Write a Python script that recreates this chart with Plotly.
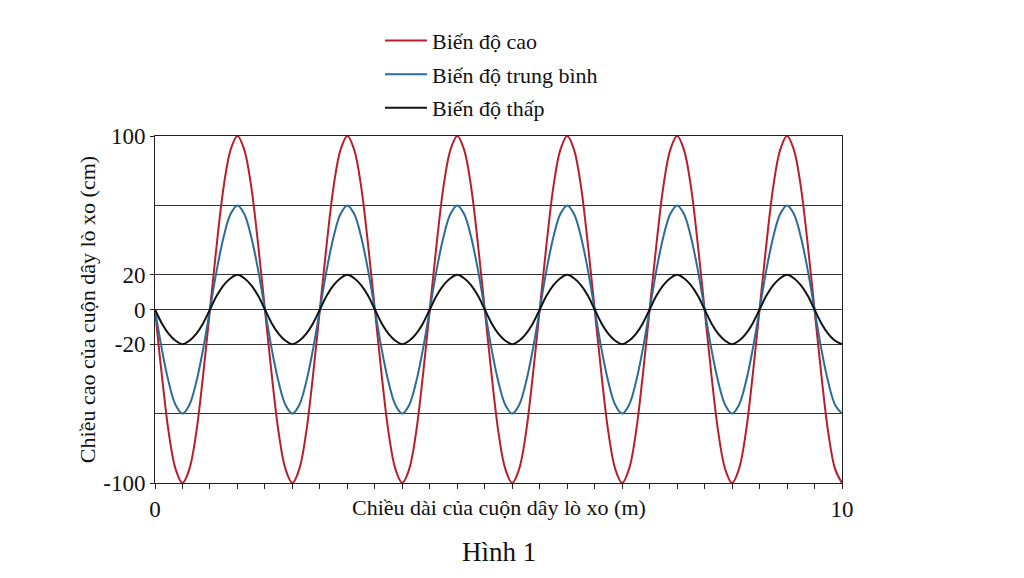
import plotly.graph_objects as go

# x positions along the spring (m), read every 0.1 m
x_m = [round(i * 0.1, 1) for i in range(101)]

# curve heights (cm), one period = 16 readings
bien_do_cao = [0, -38, -71, -92, -100, -92, -71, -38, 0, 38, 71, 92, 100, 92, 71, 38,
               0, -38, -71, -92, -100, -92, -71, -38, 0, 38, 71, 92, 100, 92, 71, 38,
               0, -38, -71, -92, -100, -92, -71, -38, 0, 38, 71, 92, 100, 92, 71, 38,
               0, -38, -71, -92, -100, -92, -71, -38, 0, 38, 71, 92, 100, 92, 71, 38,
               0, -38, -71, -92, -100, -92, -71, -38, 0, 38, 71, 92, 100, 92, 71, 38,
               0, -38, -71, -92, -100, -92, -71, -38, 0, 38, 71, 92, 100, 92, 71, 38,
               0, -38, -71, -92, -100]
bien_do_tb = [0, -23, -42, -55, -60, -55, -42, -23, 0, 23, 42, 55, 60, 55, 42, 23,
              0, -23, -42, -55, -60, -55, -42, -23, 0, 23, 42, 55, 60, 55, 42, 23,
              0, -23, -42, -55, -60, -55, -42, -23, 0, 23, 42, 55, 60, 55, 42, 23,
              0, -23, -42, -55, -60, -55, -42, -23, 0, 23, 42, 55, 60, 55, 42, 23,
              0, -23, -42, -55, -60, -55, -42, -23, 0, 23, 42, 55, 60, 55, 42, 23,
              0, -23, -42, -55, -60, -55, -42, -23, 0, 23, 42, 55, 60, 55, 42, 23,
              0, -23, -42, -55, -60]
bien_do_thap = [0, -8, -14, -18, -20, -18, -14, -8, 0, 8, 14, 18, 20, 18, 14, 8,
                0, -8, -14, -18, -20, -18, -14, -8, 0, 8, 14, 18, 20, 18, 14, 8,
                0, -8, -14, -18, -20, -18, -14, -8, 0, 8, 14, 18, 20, 18, 14, 8,
                0, -8, -14, -18, -20, -18, -14, -8, 0, 8, 14, 18, 20, 18, 14, 8,
                0, -8, -14, -18, -20, -18, -14, -8, 0, 8, 14, 18, 20, 18, 14, 8,
                0, -8, -14, -18, -20, -18, -14, -8, 0, 8, 14, 18, 20, 18, 14, 8,
                0, -8, -14, -18, -20]

series = [
    ("Biến độ cao", bien_do_cao, "#b7202a"),
    ("Biến độ trung bình", bien_do_tb, "#2b6d98"),
    ("Biến độ thấp", bien_do_thap, "#111111"),
]

y_ticks = [100, 20, 0, -20, -100]
y_ticktext = ["100", "20", "0", "-20", "-100"]
y_minor_grid = [60, -60]

FONT = "Liberation Serif"

fig = go.Figure()
for i, (name, ys, color) in enumerate(series):
    fig.add_trace(go.Scatter(
        x=x_m, y=ys, name=name, mode="lines",
        line=dict(color=color, width=2, shape="spline", smoothing=1.0),
        legendgroup=f"g{i}",
    ))

# page body has an 8px margin, so the plot box is shifted back by 8px
fig.update_layout(
    width=1024, height=578,
    margin=dict(l=147, r=190, t=128, b=103, autoexpand=False),
    paper_bgcolor="white", plot_bgcolor="white",
    font=dict(family=FONT, size=22, color="#111111"),
    showlegend=True,
    legend=dict(
        x=0.3275, y=1.335, xanchor="left", yanchor="top",
        bgcolor="rgba(0,0,0,0)", tracegroupgap=2, itemwidth=42,
        font=dict(family=FONT, size=22),
    ),
    xaxis=dict(
        range=[0, 10], tickvals=[0, 10], ticktext=["0", "10"],
        ticks="outside", ticklen=5, tickcolor="#222",
        showline=True, linecolor="#222", linewidth=1, mirror=True,
        showgrid=False, zeroline=False,
        minor=dict(dtick=0.4, tick0=0, ticks="outside", ticklen=5,
                   tickcolor="#222", showgrid=False),
        tickfont=dict(family=FONT, size=23),
    ),
    yaxis=dict(
        range=[-100, 100], tickvals=y_ticks, ticktext=y_ticktext,
        ticks="outside", ticklen=4, tickcolor="#222",
        showline=True, linecolor="#222", linewidth=1, mirror=True,
        showgrid=True, gridcolor="#333", gridwidth=1,
        zeroline=True, zerolinecolor="#333", zerolinewidth=1,
        minor=dict(tickvals=y_minor_grid, showgrid=True, gridcolor="#333",
                   gridwidth=1, ticks=""),
        tickfont=dict(family=FONT, size=23),
        title=dict(text="Chiều cao của cuộn dây lò xo (cm)",
                   font=dict(family=FONT, size=22), standoff=1),
    ),
    annotations=[
        dict(text="Chiều dài của cuộn dây lò xo (m)", x=0.5, y=-0.07,
             xref="paper", yref="paper", xanchor="center", yanchor="middle",
             showarrow=False, font=dict(family=FONT, size=22)),
        dict(text="Hình 1", x=0.5, y=-0.2, xref="paper", yref="paper",
             xanchor="center", yanchor="middle", showarrow=False,
             font=dict(family=FONT, size=27)),
    ],
)

fig.write_html("out.html")
